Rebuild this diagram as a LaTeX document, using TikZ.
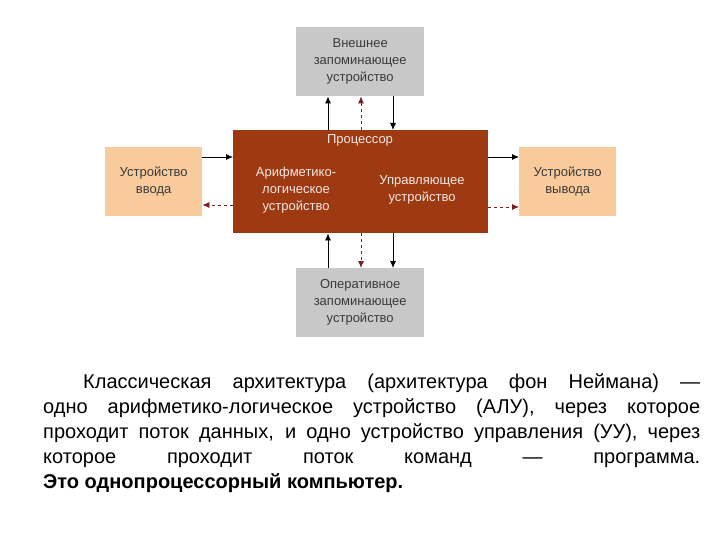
\documentclass[tikz,border=0pt]{standalone}
\usepackage{fontspec}
\setmainfont{Liberation Sans}
\usetikzlibrary{arrows.meta}
\definecolor{proc}{HTML}{9E3A12}
\definecolor{orangebox}{HTML}{F9CB9C}
\definecolor{graybox}{HTML}{C8C8C8}
\definecolor{boxtext}{HTML}{3A3A3A}
\definecolor{dashred}{HTML}{7A1E1E}
\begin{document}
\begin{tikzpicture}[x=1pt,y=-1pt,
  gbox/.style={fill=graybox,draw=none,minimum width=128pt,minimum height=69pt,anchor=north west,align=center,font=\fontsize{13}{17}\selectfont,text=boxtext},
  obox/.style={fill=orangebox,draw=none,minimum width=97pt,minimum height=69pt,anchor=north west,align=center,font=\fontsize{13}{17}\selectfont,text=boxtext},
  solidarr/.style={-{Latex[length=7pt,width=6pt]},black,line width=0.8pt},
  dasharr/.style={-{Latex[length=7pt,width=6pt]},dashred,dashed,line width=0.8pt},
  ptext/.style={text=white!88!proc,font=\fontsize{13}{17}\selectfont,align=center}]
\useasboundingbox (0,0) rectangle (720,540);
\node[gbox] (ext) at (296,27) {Внешнее\\запоминающее\\устройство};
\node[gbox] (ram) at (296,268) {Оперативное\\запоминающее\\устройство};
\node[obox] (in) at (105,147) {Устройство\\ввода};
\node[obox] (out) at (519,147) {Устройство\\вывода};
\node[fill=proc,minimum width=255pt,minimum height=103pt,anchor=north west] (cpu) at (233,130) {};
\node[ptext] (cpul) at (360,140) {Процессор};
\node[ptext] (alu) at (296,190) {Арифметико-\\логическое\\устройство};
\node[ptext] (cu) at (422,190) {Управляющее\\устройство};
% top
\draw[solidarr] (cpu.north west -| 328,0) -- (ext.south west -| 328,0);
\draw[dasharr] (cpu.north west -| 361,0) -- (ext.south west -| 361,0);
\draw[solidarr] (ext.south west -| 393,0) -- (cpu.north west -| 393,0);
% bottom
\draw[solidarr] (ram.north west -| 328,0) -- (cpu.south west -| 328,0);
\draw[dasharr] (cpu.south west -| 361,0) -- (ram.north west -| 361,0);
\draw[solidarr] (cpu.south west -| 393,0) -- (ram.north west -| 393,0);
% left
\draw[solidarr] (in.north east |- 0,157) -- (cpu.north west |- 0,157);
\draw[dasharr] (cpu.north west |- 0,205) -- (in.north east |- 0,205);
% right
\draw[solidarr] (cpu.north east |- 0,157) -- (out.north west |- 0,157);
\draw[dasharr] (cpu.north east |- 0,207) -- (out.north west |- 0,207);
\node[anchor=north west,text width=657pt,align=justify,inner sep=0pt,font=\fontsize{20}{25}\selectfont] (para) at (43,373)
{\parindent=40pt\indent Классическая архитектура (архитектура фон Неймана) —\linebreak
одно арифметико-логическое устройство (АЛУ), через которое\linebreak
проходит поток данных, и одно устройство управления (УУ), через\linebreak
которое проходит поток команд — программа.\linebreak
\textbf{Это однопроцессорный компьютер.}};
\end{tikzpicture}
\end{document}
